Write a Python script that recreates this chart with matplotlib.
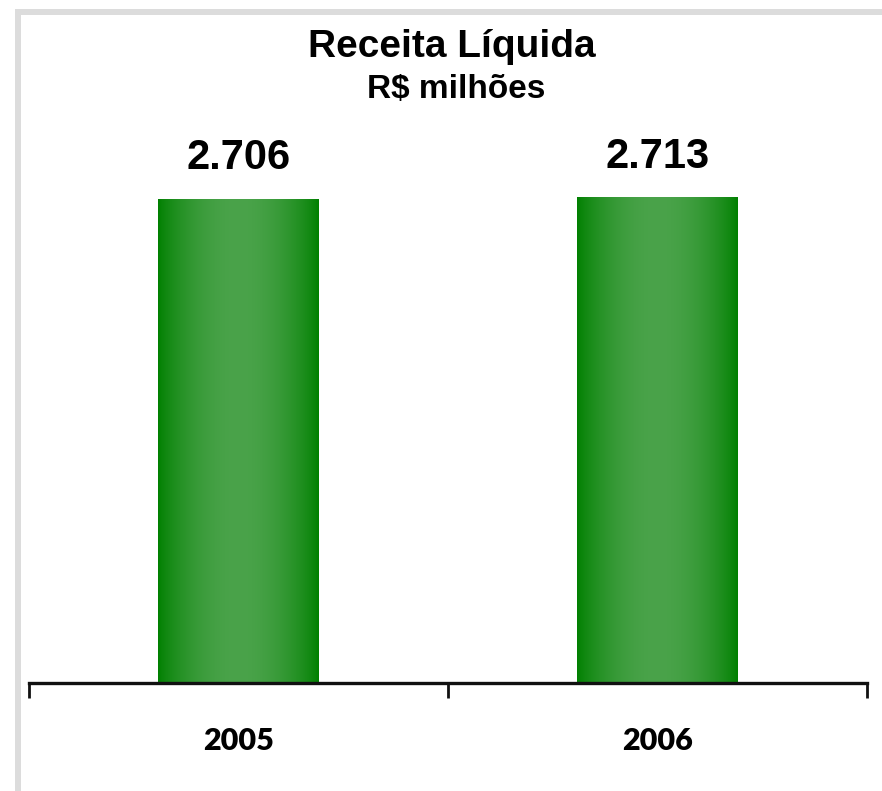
import numpy as np
import matplotlib
matplotlib.use("Agg")
import matplotlib.pyplot as plt
from matplotlib.patches import Rectangle

categories = ["2005", "2006"]
values = [2706, 2713]
value_labels = ["2.706", "2.713"]
title = "Receita Líquida"
subtitle = "R$ milhões"

W, H = 882, 791
fig = plt.figure(figsize=(W / 100, H / 100), dpi=100)
fig.patch.set_facecolor("white")

# light gray frame (left and top)
fig.add_artist(Rectangle((15 / W, 0), 6 / W, 1 - 9 / H, transform=fig.transFigure,
                         facecolor="#dcdcdc", edgecolor="none"))
fig.add_artist(Rectangle((15 / W, 1 - 15 / H), 1 - 15 / W, 6 / H, transform=fig.transFigure,
                         facecolor="#dcdcdc", edgecolor="none"))

ax_left, ax_right = 29 / W, 867 / W
ax_bottom, ax_top = 1 - 683 / H, 1 - 15 / H
ax = fig.add_axes([ax_left, ax_bottom, ax_right - ax_left, ax_top - ax_bottom])
ax.set_facecolor("none")

x = np.arange(len(categories))
bw = 0.384
bars = ax.bar(x, values, width=bw, color="none", edgecolor="none", zorder=2)

# horizontal gradient (cylinder shading)
n = 256
u = np.linspace(0, 1, n)
t = np.sin(np.pi * u) ** 0.8
dark = np.array([0, 128, 0]) / 255
light = np.array([74, 163, 74]) / 255
grad = dark[None, :] * (1 - t[:, None]) + light[None, :] * t[:, None]
img = grad[None, :, :]
for b in bars:
    x0, y0 = b.get_x(), b.get_y()
    w, h = b.get_width(), b.get_height()
    im = ax.imshow(img, extent=[x0, x0 + w, y0, y0 + h], aspect="auto",
                   interpolation="bilinear", zorder=2)
    im.set_clip_path(b)

ax.set_xlim(-0.5, len(categories) - 0.5)
ax.set_ylim(0, 3732)

for xi, v, lab in zip(x, values, value_labels):
    ax.annotate(lab, (xi, v), xytext=(0, 21.5), textcoords="offset points",
                ha="center", va="baseline", fontsize=30, fontweight="bold",
                family=["Liberation Sans Narrow", "Liberation Sans", "DejaVu Sans"],
                color="black")

for xi, c in zip(x, categories):
    ax.text(xi, -0.087, c, transform=ax.get_xaxis_transform(), ha="center", va="center",
            fontsize=22, fontweight="heavy", family=["Lato", "DejaVu Sans"], color="black")

for s in ["top", "right", "left"]:
    ax.spines[s].set_visible(False)
ax.spines["bottom"].set_linewidth(2.4)
ax.spines["bottom"].set_color("#111111")
ax.set_yticks([])
ax.set_xticks(np.arange(-0.5, len(categories), 1.0))
ax.set_xticklabels([])
ax.tick_params(axis="x", direction="out", length=11, width=2.0, color="#111111")

fig.text(452 / W, 1 - 57 / H, title, ha="center", va="baseline", fontsize=28,
         fontweight="bold", family=["Liberation Sans", "DejaVu Sans"])
fig.text(456 / W, 1 - 98 / H, subtitle, ha="center", va="baseline", fontsize=24,
         fontweight="bold", family=["Liberation Sans", "DejaVu Sans"])

fig.savefig("out.png", dpi=100, facecolor="white")
